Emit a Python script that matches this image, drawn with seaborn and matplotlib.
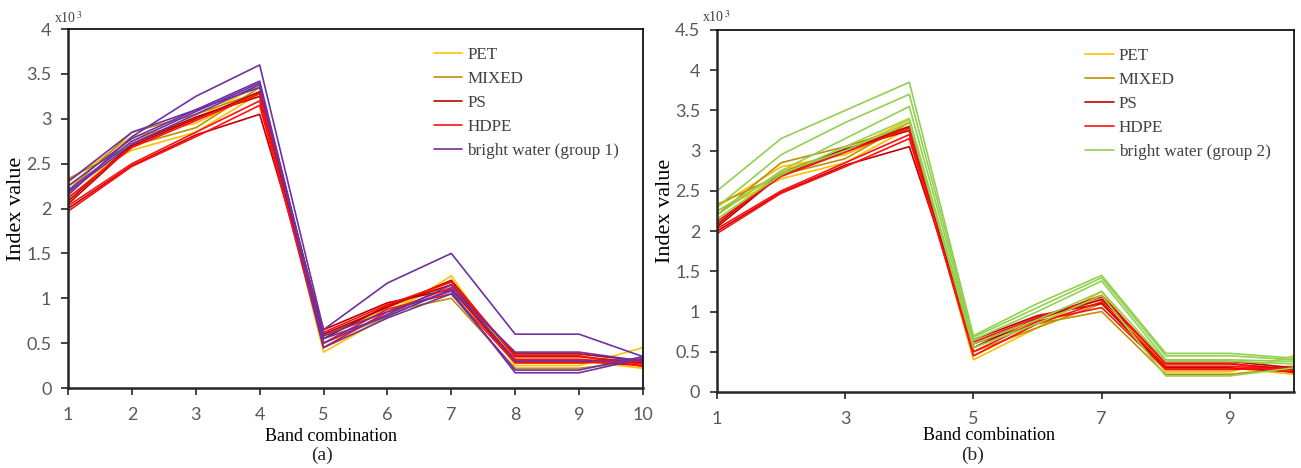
import numpy as np
import pandas as pd
import matplotlib
matplotlib.use("Agg")
import matplotlib.pyplot as plt
import seaborn as sns

bands = [1, 2, 3, 4, 5, 6, 7, 8, 9, 10]

pet = [
    [2.30, 2.80, 2.95, 3.30, 0.40, 0.80, 1.25, 0.25, 0.25, 0.45],
    [2.25, 2.65, 2.85, 3.28, 0.45, 0.85, 1.20, 0.30, 0.30, 0.22],
    [2.10, 2.75, 3.00, 3.38, 0.55, 0.90, 1.15, 0.35, 0.35, 0.25],
]
mixed = [
    [2.33, 2.70, 2.90, 3.35, 0.60, 0.85, 1.00, 0.22, 0.22, 0.30],
    [2.20, 2.85, 3.05, 3.30, 0.50, 0.80, 1.10, 0.28, 0.28, 0.32],
]
ps = [
    [2.05, 2.70, 3.00, 3.30, 0.60, 0.90, 1.20, 0.35, 0.35, 0.28],
    [2.00, 2.48, 2.82, 3.05, 0.65, 0.95, 1.10, 0.30, 0.30, 0.25],
    [2.08, 2.72, 3.02, 3.25, 0.55, 0.92, 1.15, 0.38, 0.38, 0.30],
]
hdpe = [
    [1.97, 2.47, 2.80, 3.15, 0.50, 0.88, 1.05, 0.28, 0.28, 0.30],
    [2.03, 2.50, 2.85, 3.20, 0.45, 0.85, 1.12, 0.32, 0.32, 0.27],
    [2.12, 2.68, 2.98, 3.28, 0.62, 0.93, 1.18, 0.36, 0.36, 0.24],
]
bright_g1 = [
    [2.15, 2.80, 3.25, 3.60, 0.65, 1.17, 1.50, 0.60, 0.60, 0.35],
    [2.30, 2.85, 3.10, 3.42, 0.55, 0.80, 1.10, 0.40, 0.40, 0.30],
    [2.20, 2.75, 3.08, 3.40, 0.45, 0.78, 1.05, 0.20, 0.20, 0.35],
    [2.18, 2.72, 3.05, 3.38, 0.50, 0.82, 1.15, 0.30, 0.30, 0.32],
    [2.25, 2.78, 3.10, 3.35, 0.58, 0.85, 1.08, 0.17, 0.17, 0.33],
]
bright_g2 = [
    [2.50, 3.15, 3.50, 3.85, 0.70, 1.10, 1.45, 0.48, 0.48, 0.42],
    [2.30, 2.95, 3.35, 3.70, 0.68, 1.05, 1.42, 0.45, 0.45, 0.40],
    [2.20, 2.75, 3.15, 3.55, 0.65, 1.00, 1.38, 0.40, 0.40, 0.38],
    [2.15, 2.70, 3.05, 3.40, 0.60, 0.90, 1.25, 0.38, 0.38, 0.35],
    [2.25, 2.72, 3.00, 3.35, 0.55, 0.85, 1.20, 0.20, 0.20, 0.30],
]

labels_common = ["PET", "MIXED", "PS", "HDPE"]
label_g1 = "bright water (group 1)"
label_g2 = "bright water (group 2)"

colors = {
    "PET": "#FFC000",
    "MIXED": "#BF9000",
    "PS": "#C00000",
    "HDPE": "#FF1010",
    label_g1: "#7030A0",
    label_g2: "#92D050",
}


def build_df(groups):
    rows = []
    for name, series in groups:
        for i, s in enumerate(series):
            for b, v in zip(bands, s):
                rows.append({"band": b, "value": v, "material": name,
                             "sample": f"{name}_{i}"})
    return pd.DataFrame(rows)


common = [("PET", pet), ("MIXED", mixed), ("PS", ps), ("HDPE", hdpe)]
df_a = build_df(common + [(label_g1, bright_g1)])
df_b = build_df(common + [(label_g2, bright_g2)])

sns.set_style("white")
plt.rcParams["font.family"] = ["Liberation Serif", "DejaVu Serif"]
plt.rcParams["mathtext.fontset"] = "stix"

W, H = 1301, 468
fig = plt.figure(figsize=(W / 100, H / 100), dpi=100)
ax_a = fig.add_axes([0.0523, 0.1709, 0.4419, 0.767])
ax_b = fig.add_axes([0.5511, 0.1624, 0.4435, 0.7735])

tick_gray = "#595959"


def style_axes(ax, df, order, ymax, xticks, sub, xlab_x, xlab_y,
               sub_px, exp_xy, leg_x):
    sns.lineplot(data=df, x="band", y="value", hue="material",
                 hue_order=order, units="sample", estimator=None,
                 palette=colors, linewidth=1.2, ax=ax, sort=False)
    ax.set_xlim(1, 10)
    ax.set_ylim(0, ymax)
    ax.set_xticks(xticks)
    yt = np.arange(0, ymax + 0.01, 0.5)
    ax.set_yticks(yt)
    ax.set_yticklabels([f"{t:g}" for t in yt])
    for lab in ax.get_xticklabels() + ax.get_yticklabels():
        lab.set_family("Lato")
        lab.set_fontsize(13)
        lab.set_color(tick_gray)
    ax.tick_params(axis="both", direction="out", length=5, width=1.2,
                   color="#262626", bottom=True, left=True)
    ax.tick_params(axis="x", pad=9)
    ax.tick_params(axis="y", pad=7)
    for side in ["left", "bottom"]:
        ax.spines[side].set_linewidth(1.8)
        ax.spines[side].set_color("#262626")
    for side in ["top", "right"]:
        ax.spines[side].set_linewidth(1.2)
        ax.spines[side].set_color("#000000")
    ax.set_xlabel("Band combination", fontsize=13, color="#000000")
    ax.xaxis.set_label_coords(xlab_x, xlab_y)
    ax.set_ylabel("Index value", fontsize=16, color="#000000")
    ax.yaxis.set_label_coords(-0.073, 0.5)
    fig.text(sub_px[0] / W, 1 - sub_px[1] / H, sub, ha="center",
             va="center", fontsize=14)
    ax.text(exp_xy[0], exp_xy[1], r"x10$^{\,3}$", transform=ax.transAxes,
            ha="left", va="baseline", fontsize=10, color="#404040")
    sns.move_legend(ax, "upper left", bbox_to_anchor=(leg_x, 0.993),
                    frameon=False, title=None, fontsize=12.3,
                    handlelength=1.65, handletextpad=0.3, labelspacing=0.47)
    leg = ax.get_legend()
    for t in leg.get_texts():
        t.set_color("#404040")


style_axes(ax_a, df_a, labels_common + [label_g1], 4.0,
           list(range(1, 11)), "(a)", 0.457, -0.111, (322, 455),
           (-0.024, 1.017), 0.61)
style_axes(ax_b, df_b, labels_common + [label_g2], 4.5,
           [1, 3, 5, 7, 9], "(b)", 0.471, -0.097, (973, 455),
           (-0.026, 1.022), 0.612)

fig.savefig("out.png", dpi=100)
